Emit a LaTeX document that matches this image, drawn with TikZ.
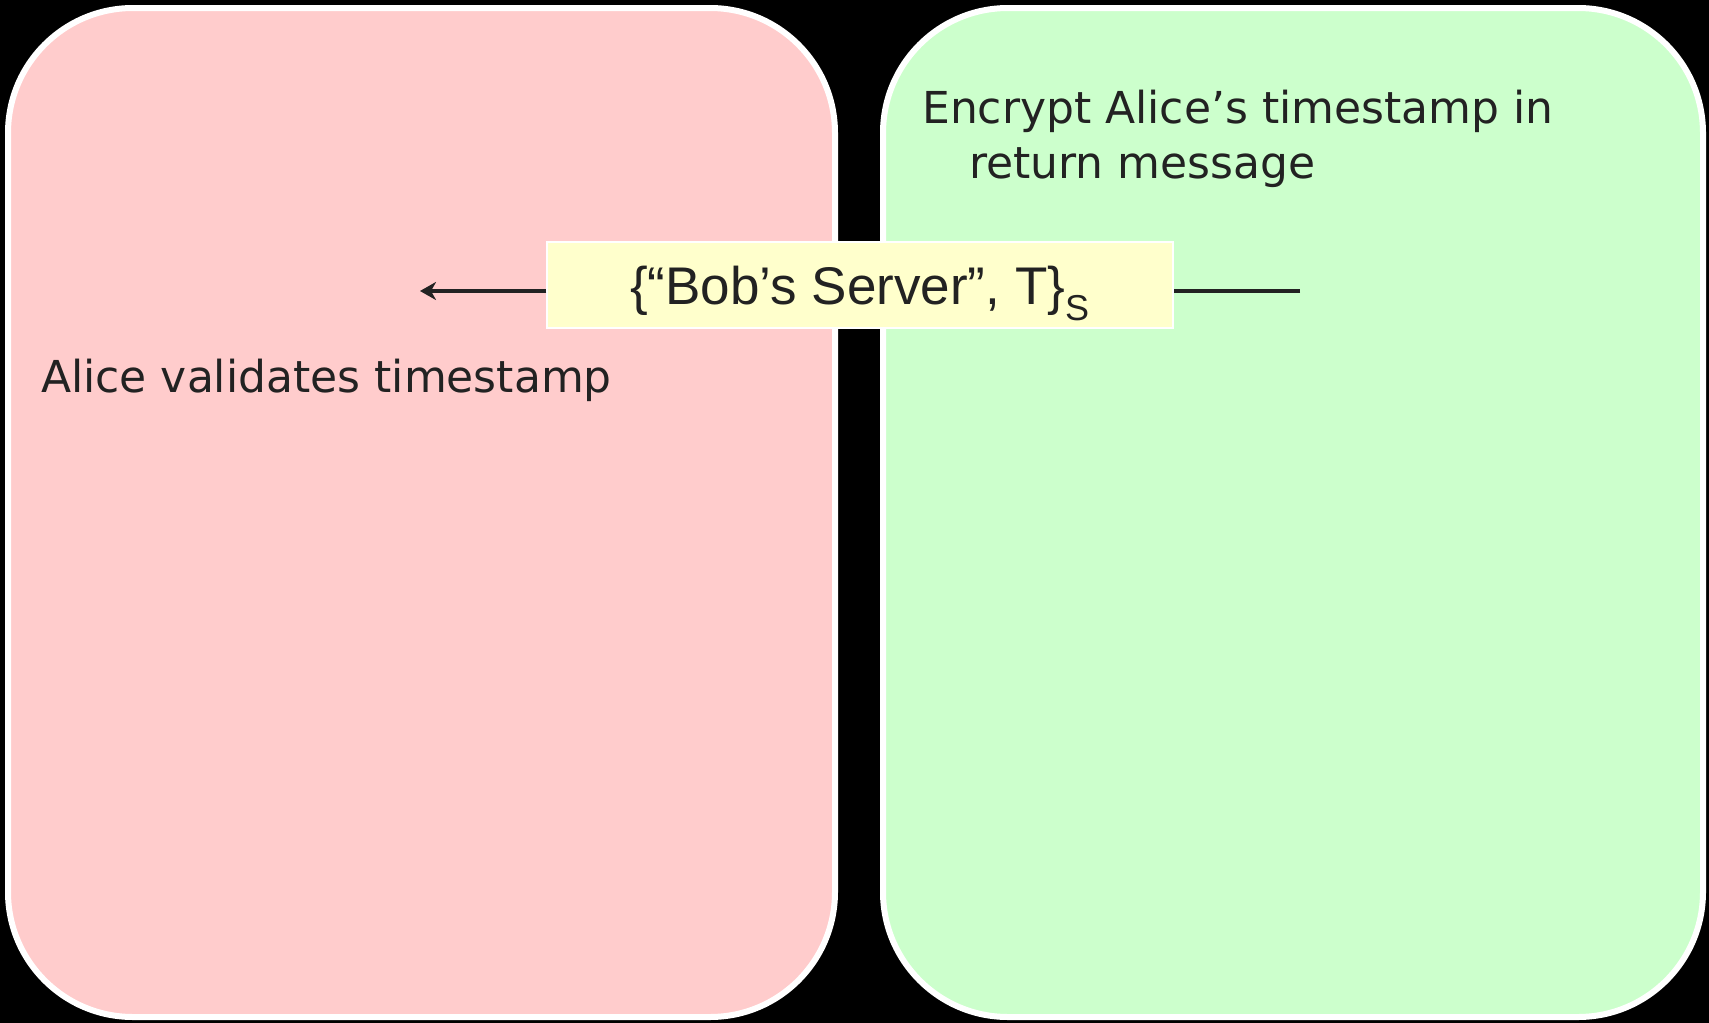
\documentclass[tikz,border=0pt]{standalone}
\usepackage{fontspec}
\setmainfont{Liberation Sans}
\newfontfamily\handfont{DejaVu Sans}
\usetikzlibrary{arrows.meta}
\definecolor{alicepink}{HTML}{FFCCCC}
\definecolor{bobgreen}{HTML}{CCFFCC}
\definecolor{msgyellow}{HTML}{FFFFCC}
\definecolor{ink}{HTML}{222222}
\tikzset{
  party/.style={draw=white, line width=6pt, rounded corners=125pt},
  note/.style={anchor=base west, inner sep=0pt, text=ink, font=\handfont\fontsize{44}{52}\selectfont},
  msgbox/.style={fill=msgyellow, draw=white, line width=1.2pt, minimum width=626pt, minimum height=86pt, inner sep=0pt, text height=38pt, text depth=0pt, text=ink, font=\fontsize{53}{60}\selectfont},
  wire/.style={draw=ink, line width=4pt}
}
\begin{document}
\begin{tikzpicture}[x=1pt,y=-1pt]
  % background
  \fill[black] (0,0) rectangle (1709,1023);
  \useasboundingbox (0,0) rectangle (1709,1023);
  % the two parties
  \path[party, fill=alicepink] (8,8) rectangle (835,1017);
  \path[party, fill=bobgreen] (883,8) rectangle (1703,1017);
  % notes
  \node[note] (enc1) at (922,123) {Encrypt Alice’s timestamp in};
  \node[note] (enc2) at (969,178) {return message};
  \node[note] (valid) at (41,392) {Alice validates timestamp};
  % message
  \node[msgbox] (msg) at (860,285) {\{“Bob’s Server”, T\}$_{\textrm{\fontsize{36}{36}\selectfont S}}$};
  \coordinate (tip) at (420,291);
  \coordinate (src) at (1300,291);
  \draw[wire] (src) -- (msg.east |- src);
  \draw[wire, -{Stealth[length=16pt, width=18pt, inset=5pt]}] (msg.west |- tip) -- (tip);
\end{tikzpicture}
\end{document}
